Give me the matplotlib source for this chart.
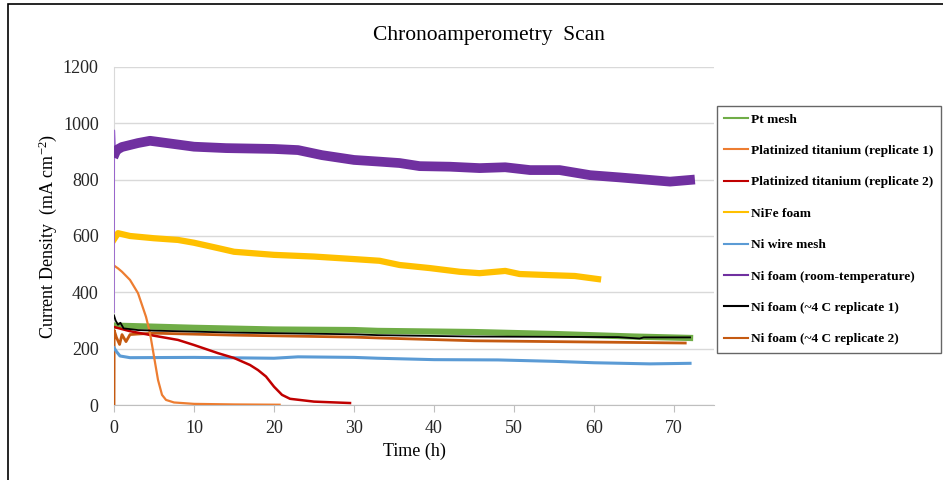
import matplotlib.pyplot as plt
from matplotlib.lines import Line2D
from matplotlib.patches import Rectangle

plt.rcParams['font.family'] = ['Liberation Serif', 'DejaVu Serif']
plt.rcParams['mathtext.fontset'] = 'custom'
plt.rcParams['mathtext.rm'] = 'Liberation Serif'
plt.rcParams['mathtext.it'] = 'Liberation Serif:italic'

# values (time in h, current density in mA cm^-2)
pt_t = [0, 1, 5, 10, 20, 30, 33, 45, 55, 65, 72]
pt_j = [282, 281, 278, 274, 268, 266, 263, 259, 252, 243, 238]

pti1_t = [0, 0.5, 1, 2, 3, 4, 4.5, 5, 5.5, 6, 6.5, 7.5, 10, 15, 20.7]
pti1_j = [495, 485, 473, 444, 397, 313, 255, 172, 89, 36, 18, 9, 4, 2, 1]

pti2_t = [0, 2, 5, 8, 10, 13, 15, 17, 18, 19, 20, 21, 22, 25, 29.5]
pti2_j = [277, 262, 246, 231, 213, 184, 167, 142, 124, 101, 65, 36, 22, 12, 7]

nife_t = [0, 0.5, 2, 5, 8, 10, 13, 15, 20, 25, 30, 33.2, 35.7, 39.5, 43.2, 45.7,
          48.9, 50.7, 54.5, 57.6, 60.5]
nife_j = [588, 610, 600, 592, 586, 576, 557, 544, 533, 527, 518, 512, 497, 486,
          473, 468, 476, 465, 461, 458, 447]

wire_t = [0, 0.3, 0.75, 2, 10, 20, 23, 30, 33, 40, 48, 55, 60, 67, 72]
wire_j = [203, 190, 174, 168, 169, 166, 171, 169, 166, 161, 160, 155, 150, 146, 148]

rt_t = [0, 0.03, 0.15, 0.3, 1, 3, 4.5, 10, 14, 20, 23, 26, 30, 33.2, 35.7, 38.2,
        42, 45.7, 48.9, 52, 55.7, 59.5, 63.2, 67, 69.5, 72]
rt_j = [330, 975, 895, 905, 916, 930, 938, 917, 912, 909, 905, 887, 870, 864, 859,
        848, 846, 841, 844, 834, 834, 816, 808, 799, 793, 799]

cold1_t = [0, 0.2, 0.5, 0.8, 1.2, 1.8, 3, 5, 15, 30, 33, 45, 55, 63, 65.7, 66.2, 72]
cold1_j = [318, 300, 285, 292, 272, 270, 266, 264, 257, 251, 248, 243, 242, 241,
           236, 240, 240]

cold2_t = [0, 0.02, 0.3, 0.7, 1.0, 1.5, 2.0, 3, 5, 15, 30, 33, 45, 55, 65, 71.4]
cold2_j = [0, 265, 240, 215, 250, 225, 250, 252, 255, 248, 241, 238, 228, 225, 222, 220]

labels = ['Pt mesh', 'Platinized titanium (replicate 1)',
          'Platinized titanium (replicate 2)', 'NiFe foam', 'Ni wire mesh',
          'Ni foam (room-temperature)', 'Ni foam (~4 C replicate 1)',
          'Ni foam (~4 C replicate 2)']
colors = ['#70AD47', '#ED7D31', '#C00000', '#FFC000', '#5B9BD5', '#7030A0',
          '#000000', '#C55A11']

fig = plt.figure(figsize=(9.43, 4.8), dpi=100)
ax = fig.add_axes([0.1209, 0.15625, 0.6363, 0.7042])

ax.plot(cold2_t, cold2_j, color=colors[7], lw=2, zorder=3)
ax.plot(pt_t, pt_j, color=colors[0], lw=4.5, zorder=3)
ax.plot(cold1_t, cold1_j, color=colors[6], lw=1.3, zorder=4)
ax.plot(wire_t, wire_j, color=colors[4], lw=2.2, zorder=3)
ax.plot(pti2_t, pti2_j, color=colors[2], lw=1.8, zorder=3)
ax.plot(pti1_t, pti1_j, color=colors[1], lw=1.6, zorder=3)
ax.plot(nife_t, nife_j, color=colors[3], lw=4.5, zorder=3)
ax.plot(rt_t[:3], rt_j[:3], color='#9966CC', lw=1.2, zorder=3)
ax.plot(rt_t[2:], rt_j[2:], color=colors[5], lw=7, zorder=3)

ax.set_xlim(0, 75)
ax.set_ylim(0, 1200)
ax.set_xticks(range(0, 80, 10))
ax.set_yticks(range(0, 1400, 200))
ax.grid(axis='y', color='#D9D9D9', lw=1)
ax.set_axisbelow(True)
for s in ['top', 'right']:
    ax.spines[s].set_visible(False)
ax.spines['left'].set_color('#D9D9D9')
ax.spines['bottom'].set_color('#BFBFBF')
ax.tick_params(axis='y', length=0, pad=11, labelsize=13, colors='#262626')
ax.tick_params(axis='x', length=5, color='#BFBFBF', pad=6, labelsize=13,
               labelcolor='#262626')
ax.set_xlabel('Time (h)', fontsize=13, labelpad=4)
ax.set_ylabel('Current Density  (mA cm$^{-2}$)', fontsize=13, labelpad=3)

fig.text(0.519, 0.927, 'Chronoamperometry  Scan', ha='center', va='center',
         fontsize=15.5)

handles = [Line2D([], [], color=c, lw=1.5) for c in colors]
leg = fig.legend(handles, labels, loc='upper left',
                 bbox_to_anchor=(717 / 943, 1 - 106 / 480), borderaxespad=0,
                 prop={'weight': 'bold', 'size': 9.6}, handlelength=1.8,
                 handletextpad=0.2, labelspacing=1.43, fancybox=False,
                 borderpad=0.55)
leg.get_frame().set_edgecolor('#404040')
leg.get_frame().set_linewidth(1)

fig.patches.append(Rectangle((8 / 943, -0.1), 1.2, 1.1 - 4 / 480,
                             transform=fig.transFigure, fill=False,
                             edgecolor='black', lw=1.2))

fig.savefig('out.png', dpi=100)
